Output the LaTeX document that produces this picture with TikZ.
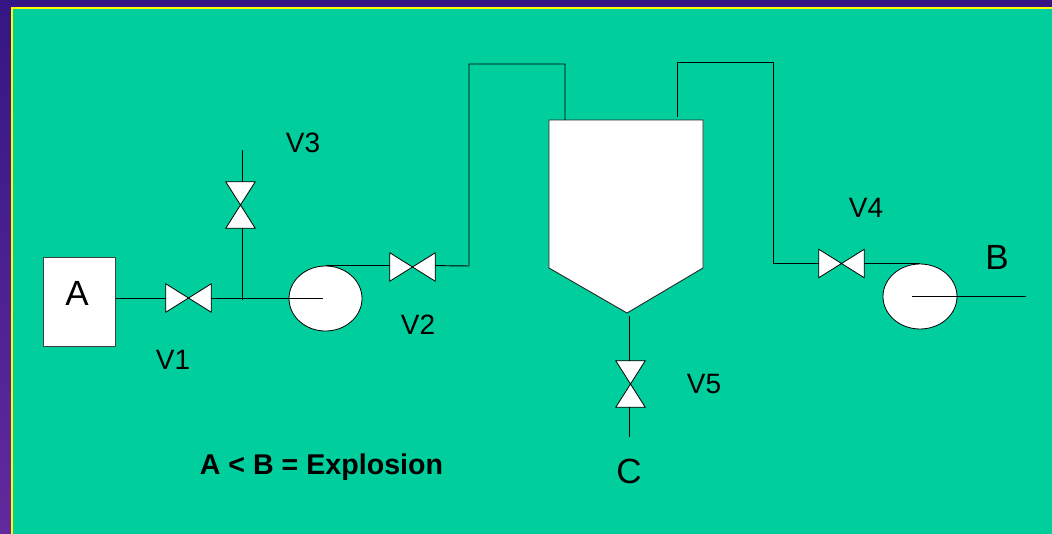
\documentclass[tikz,border=0pt]{standalone}
\usepackage{fontspec}
\setmainfont{Liberation Sans}
\usetikzlibrary{shapes.geometric}
\definecolor{panelgreen}{HTML}{00CE9C}
\definecolor{frameyellow}{HTML}{FFFF00}
\definecolor{purpletop}{HTML}{351684}
\definecolor{purplebot}{HTML}{622A9C}
\tikzset{
  x=1pt,y=-1pt,
  pipe/.style={draw=black,line width=0.95pt},
  boxA/.style={draw=black!75,fill=white,line width=1pt,minimum width=72pt,minimum height=89pt,inner sep=0pt},
  pump/.style={ellipse,draw=black,fill=white,line width=0.8pt,inner sep=0pt},
  valveh/.style={minimum width=45pt,minimum height=28pt,inner sep=0pt},
  valvev/.style={minimum width=29pt,minimum height=46pt,inner sep=0pt},
  valvebody/.style={fill=white,draw=black,line width=0.8pt,line join=miter},
  tankbody/.style={fill=white,draw=black!85,line width=0.9pt,line join=miter},
  lbl/.style={inner sep=0pt,font=\fontsize{28}{28}\selectfont},
  biglbl/.style={inner sep=0pt,font=\fontsize{35}{35}\selectfont},
  note/.style={inner sep=0pt,font=\fontsize{28.6}{28.6}\selectfont\bfseries},
}
\begin{document}
\begin{tikzpicture}
\useasboundingbox (0,0) rectangle (1052,533);
\shade[top color=purpletop,bottom color=purplebot] (0,0) rectangle (1052,533);
\fill[frameyellow] (11,7) rectangle (1054,535);
\fill[panelgreen] (13,9) rectangle (1054,535);
% equipment
\node[boxA] (A) at (79,301.5) {};
\node[biglbl] (Alabel) at (77,293) {A};
\node[pump,minimum width=73pt,minimum height=65pt] (p1) at (325.5,298.5) {};
\node[pump,minimum width=74pt,minimum height=65pt] (p2) at (920,296.5) {};
\draw[tankbody] (549,120) -- (703,120) -- (703,268) -- (627,313) -- (549,268) -- cycle;
\node[valveh] (v1) at (188.5,298) {};
\node[valveh] (v2) at (412.5,267) {};
\node[valvev] (v3) at (240.5,205) {};
\node[valveh] (v4) at (841.5,263.5) {};
\node[valvev] (v5) at (630.5,384) {};
\foreach \v in {v1,v2,v4}
  \draw[valvebody] (\v.north west) -- (\v.south east) -- (\v.north east) -- (\v.south west) -- cycle;
\foreach \v in {v3,v5}
  \draw[valvebody] (\v.north west) -- (\v.north east) -- (\v.south west) -- (\v.south east) -- cycle;
% free ends
\coordinate (tap) at (242,300);
\coordinate (v3end) at (242,150);
\coordinate (p1end) at (323,298);
\coordinate (p2start) at (912,296);
\coordinate (Bend) at (1026,296);
\coordinate (tankin) at (565,120);
\coordinate (tankout) at (677,117);
\coordinate (tankdrain) at (629.5,316);
\coordinate (Cend) at (629.5,437);
% connectors
\draw[pipe] (A.east|-v1.west) -- (v1.west);
\draw[pipe] (v1.east) -- (p1end);
\draw[pipe] (tap) -- (tap|-v3.south);
\draw[pipe] (tap|-v3.north) -- (v3end);
\draw[pipe] (p1.north) -- (p1.north-|v2.west);
\draw[pipe] (p1.north-|v2.east) -- (469,266) -- (469,64) -- (565,64) -- (tankin);
\draw[pipe] (tankout) -- (677,62) -- (773,62) -- (773,263.5) -- (v4.west);
\draw[pipe] (v4.east) -- (v4.east-|p2.north);
\draw[pipe] (p2start) -- (Bend);
\draw[pipe] (tankdrain) -- (tankdrain|-v5.north);
\draw[pipe] (Cend|-v5.south) -- (Cend);
% labels
\node[lbl] (lv1) at (173,360) {V1};
\node[lbl] (lv2) at (418,325) {V2};
\node[lbl] (lv3) at (303,143) {V3};
\node[lbl] (lv4) at (866,208) {V4};
\node[lbl] (lv5) at (704,384) {V5};
\node[biglbl] (lB) at (997,257) {B};
\node[biglbl] (lC) at (629,471) {C};
\node[note] (nt) at (321.5,467) {A < B = Explosion};
\end{tikzpicture}
\end{document}
